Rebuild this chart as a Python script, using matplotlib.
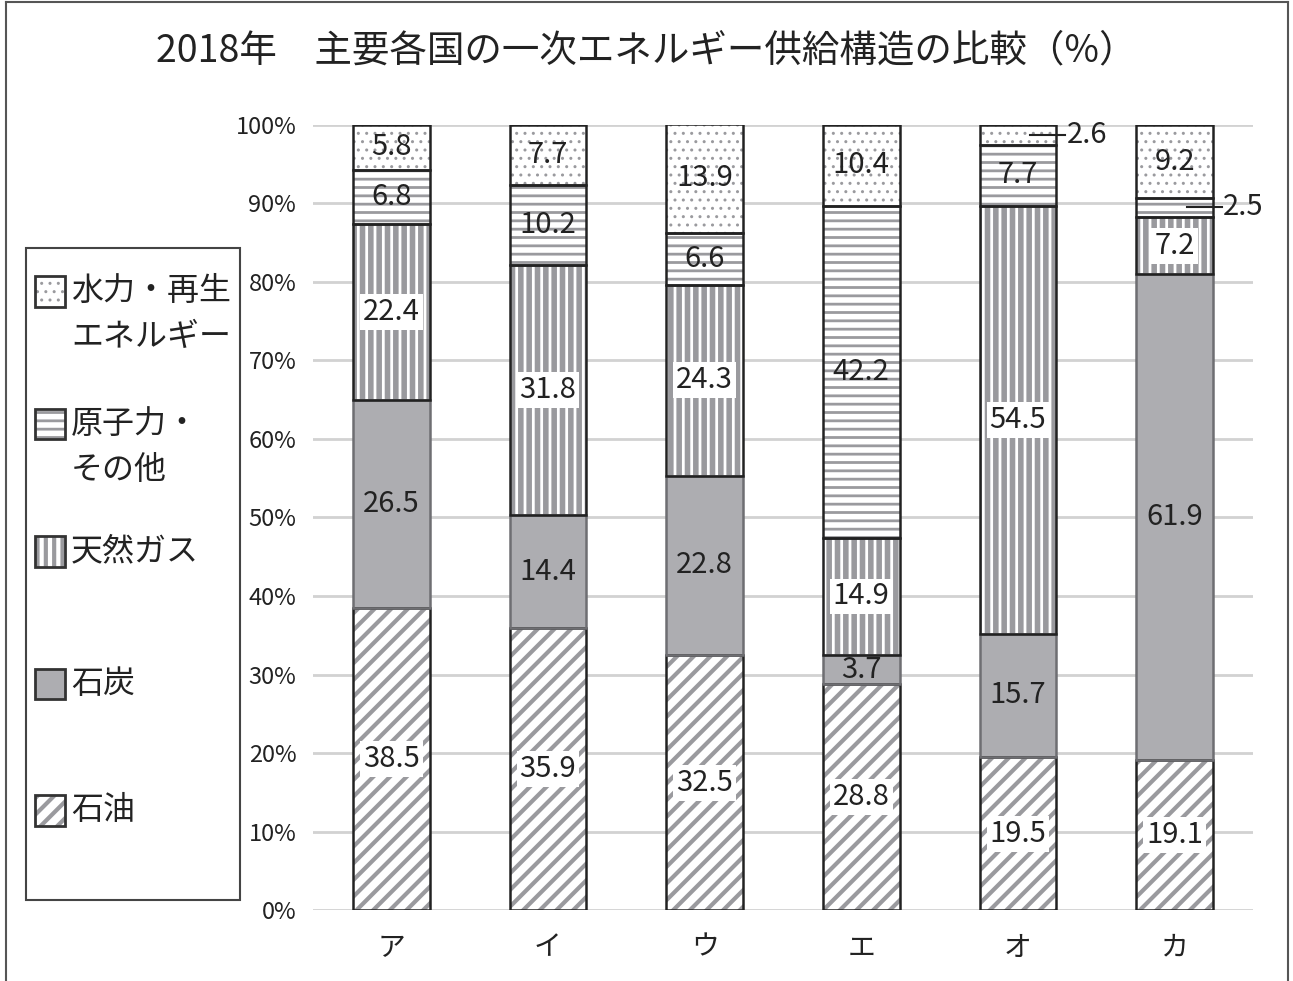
import matplotlib
matplotlib.use("Agg")
import matplotlib.pyplot as plt
from matplotlib.patches import Rectangle
from matplotlib.lines import Line2D
import numpy as np

plt.rcParams["font.family"] = ["Noto Sans CJK JP", "DejaVu Sans"]

# ---- データ ----
COUNTRIES = ["ア", "イ", "ウ", "エ", "オ", "カ"]
SERIES = ["石油", "石炭", "天然ガス", "原子力・その他", "水力・再生エネルギー"]
OIL = [38.5, 35.9, 32.5, 28.8, 19.5, 19.1]
COAL = [26.5, 14.4, 22.8, 3.7, 15.7, 61.9]
GAS = [22.4, 31.8, 24.3, 14.9, 54.5, 7.2]
NUCLEAR = [6.8, 10.2, 6.6, 42.2, 7.7, 2.5]
RENEW = [5.8, 7.7, 13.9, 10.4, 2.6, 9.2]
LEGEND_LABELS = ["水力・再生\nエネルギー", "原子力・\nその他", "天然ガス", "石炭", "石油"]
YTICKS = [0, 10, 20, 30, 40, 50, 60, 70, 80, 90, 100]

# 系列ごとのスタイル: (塗り, ハッチ, ハッチ線幅, 白枠ラベル)
STYLE = {
    "石油": ("white", "//", 3.0, True),
    "石炭": ("#adadb1", "", 1.0, False),
    "天然ガス": ("white", "||", 4.0, True),
    "原子力・その他": ("white", "--", 2.0, False),
    "水力・再生エネルギー": ("white", "..", 1.0, False),
}
HATCH_GRAY = "#9a9a9e"

fig = plt.figure(figsize=(12.93, 9.81), dpi=100)
ax = fig.add_axes([0.242, 0.072, 0.727, 0.801])

x = np.arange(len(COUNTRIES))
w = 0.49
data = [OIL, COAL, GAS, NUCLEAR, RENEW]
bottom = np.zeros(len(COUNTRIES))


def draw_segment(ax, xi, b, h, name):
    face, hatch, hlw, _ = STYLE[name]
    with plt.rc_context({"hatch.linewidth": hlw, "hatch.color": HATCH_GRAY}):
        p = ax.bar(xi, h, w, bottom=b, color=face, edgecolor=HATCH_GRAY,
                   hatch=hatch, linewidth=0, zorder=2)[0]
        if hasattr(p, "set_hatch_linewidth"):
            p.set_hatch_linewidth(hlw)
    ec = "#6e6e72" if name == "石炭" else "#222222"
    ax.bar(xi, h, w, bottom=b, fill=False, edgecolor=ec, linewidth=1.8, zorder=3)


for vals, name in zip(data, SERIES):
    for i, v in enumerate(vals):
        draw_segment(ax, x[i], bottom[i], v, name)
    bottom += np.array(vals)

# 数値ラベル
bottom = np.zeros(len(COUNTRIES))
for vals, name in zip(data, SERIES):
    box = STYLE[name][3]
    for i, v in enumerate(vals):
        yc = bottom[i] + v / 2
        if v < 3:
            # 細い帯は引き出し線で外側に
            ax.plot([x[i] + 0.08, x[i] + 0.30], [yc, yc], color="#222222",
                    lw=1.5, zorder=5, clip_on=False)
            ax.text(x[i] + 0.31, yc, f"{v}", ha="left", va="center",
                    fontsize=21, color="#222222", zorder=5)
            continue
        kw = {}
        if box:
            kw["bbox"] = dict(boxstyle="square,pad=0.1", fc="white", ec="none")
        ax.text(x[i], yc, f"{v}", ha="center", va="center", fontsize=21,
                color="#222222", zorder=4, **kw)
    bottom += np.array(vals)

ax.set_xlim(-0.5, len(COUNTRIES) - 0.5)
ax.set_ylim(0, 100)
ax.set_yticks(YTICKS)
ax.set_yticklabels([f"{t}%" for t in YTICKS], fontsize=17, color="#222222")
ax.set_xticks(x)
ax.set_xticklabels(COUNTRIES, fontsize=20, color="#222222")
ax.tick_params(length=0, pad=12)
ax.tick_params(axis="x", pad=16)
ax.grid(axis="y", color="#d2d2d2", linewidth=2)
ax.set_axisbelow(True)
for s in ax.spines.values():
    s.set_visible(False)

fig.text(0.5, 0.948, "2018年　主要各国の一次エネルギー供給構造の比較（%）",
         ha="center", va="center", fontsize=27, color="#222222")

# 凡例(枠付き)
fig.add_artist(Rectangle((0.020, 0.083), 0.166, 0.664, transform=fig.transFigure,
                         fill=False, edgecolor="#444444", linewidth=1.5))
leg_y = [0.703, 0.568, 0.438, 0.303, 0.174]
leg_series = ["水力・再生エネルギー", "原子力・その他", "天然ガス", "石炭", "石油"]
pw, ph = 0.0235, 0.031
for lab, yy, name in zip(LEGEND_LABELS, leg_y, leg_series):
    face, hatch, hlw, _ = STYLE[name]
    with plt.rc_context({"hatch.linewidth": min(hlw, 3.0), "hatch.color": HATCH_GRAY}):
        r = Rectangle((0.027, yy - ph / 2), pw, ph, transform=fig.transFigure,
                      facecolor=face, edgecolor=HATCH_GRAY, hatch=hatch, linewidth=0)
        if hasattr(r, "set_hatch_linewidth"):
            r.set_hatch_linewidth(min(hlw, 3.0))
        fig.add_artist(r)
    fig.add_artist(Rectangle((0.027, yy - ph / 2), pw, ph, transform=fig.transFigure,
                             fill=False, edgecolor="#333333", linewidth=2))
    lines = lab.split("\n")
    fig.text(0.055, yy, lines[0], ha="left", va="center", fontsize=23, color="#222222")
    if len(lines) > 1:
        fig.text(0.055, yy - 0.047, lines[1], ha="left", va="center",
                 fontsize=23, color="#222222")

# 外枠(下辺なし)
for xs, ys in [([0.005, 0.005], [0.0, 0.998]), ([0.996, 0.996], [0.0, 0.998]),
               ([0.005, 0.996], [0.998, 0.998])]:
    fig.add_artist(Line2D(xs, ys, transform=fig.transFigure, color="#555555", lw=1.5))

fig.savefig("out.png", dpi=100)
